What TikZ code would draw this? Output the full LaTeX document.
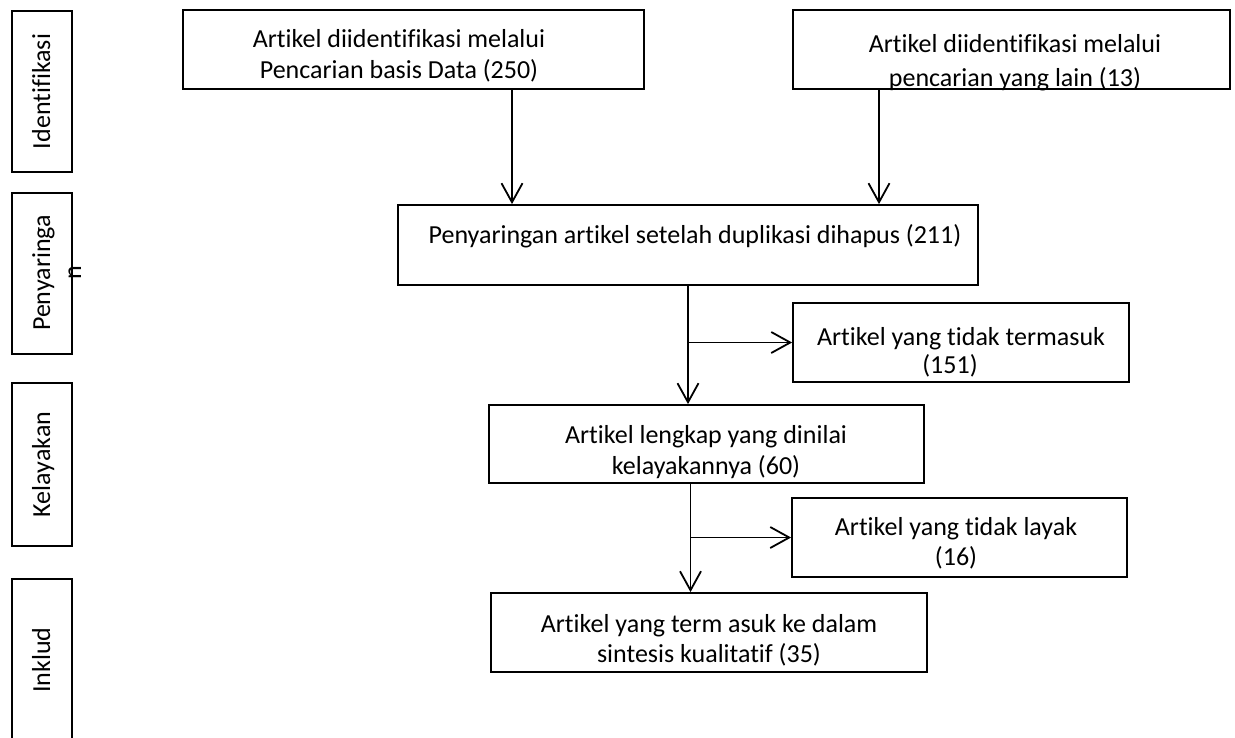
\documentclass[tikz,border=0pt]{standalone}
\usepackage{fontspec}
\setmainfont{Carlito}[Ligatures=CommonOff]
\usetikzlibrary{arrows.meta}
\begin{document}
\begin{tikzpicture}[x=1pt,y=-1pt,
  box/.style={draw=black, line width=1.8pt, inner sep=0pt},
  stagebox/.style={box, minimum width=60pt},
  txt/.style={font=\fontsize{26}{31}\selectfont, align=center, anchor=base, inner sep=0pt},
  rot/.style={font=\fontsize{26}{31}\selectfont, rotate=90, anchor=base, inner sep=0pt},
  arr/.style={draw=black, line width=1.8pt, -{Straight Barb[length=19pt,width=21pt,line width=1.8pt]}}]
\clip (0,0) rectangle (1235,737);
\fill[white] (0,0) rectangle (1235,737);

% stage boxes
\node[stagebox, minimum height=161pt] (s1) at (42,91.5) {};
\node[stagebox, minimum height=161pt] (s2) at (42,273.5) {};
\node[stagebox, minimum height=163pt] (s3) at (42,464.5) {};
\node[stagebox, minimum height=162pt] (s4) at (42,660) {};
\node[rot] (s1t) at (50,91.5) {Identifikasi};
\node[rot] (s2t) at (50,273) {Penyaringa};
\node[rot] (s2n) at (81,272.5) {n};
\node[rot] (s3t) at (50,464.5) {Kelayakan};
\node[rot] (s4t) at (50,660) {Inklud};

% main boxes
\node[box, minimum width=461pt, minimum height=79pt] (tl) at (413.5,49.5) {};
\node[box, minimum width=437pt, minimum height=79pt] (tr) at (1011.5,49.5) {};
\node[box, minimum width=580pt, minimum height=80pt] (m) at (688,245) {};
\node[box, minimum width=336pt, minimum height=79pt] (e1) at (961,342.5) {};
\node[box, minimum width=435pt, minimum height=78pt] (k) at (706.5,444) {};
\node[box, minimum width=335pt, minimum height=79pt] (e2) at (959.5,537.5) {};
\node[box, minimum width=436pt, minimum height=79pt] (i) at (709,632.5) {};

% texts (anchor = baseline of last line)
\node[txt] (tlt) at (399,78.5) {Artikel diidentifikasi melalui\\Pencarian basis Data (250)};
\node[txt] (trt) at (1015,86) {Artikel diidentifikasi melalui\\[3pt]pencarian yang lain (13)};
\node[txt] (mt) at (695,243) {Penyaringan artikel setelah duplikasi dihapus (211)};
\node[txt] (e1t) at (961,373) {Artikel yang tidak termasuk\\[-3pt](151)\hspace*{22pt}};
\node[txt] (kt) at (706,474) {Artikel lengkap yang dinilai\\kelayakannya (60)};
\node[txt] (e2t) at (956,565) {Artikel yang tidak layak\\[-1pt](16)};
\node[txt] (it) at (709,662) {Artikel yang term asuk ke dalam\\[-1pt]sintesis kualitatif (35)};

% connectors
\draw[arr] ([xshift=98.5pt]tl.south) -- ([xshift=98.5pt]tl.south |- m.north);
\draw[arr] ([xshift=-132.5pt]tr.south) -- ([xshift=-132.5pt]tr.south |- m.north);
\draw[arr] (m.south) -- (m.south |- k.north);
\draw[arr] (m.south |- e1.west) -- (e1.west);
\draw[arr] ([xshift=-16pt]k.south) -- ([xshift=-16pt]k.south |- i.north);
\draw[arr] ([xshift=-16pt]k.south |- e2.west) -- (e2.west);
\end{tikzpicture}
\end{document}
